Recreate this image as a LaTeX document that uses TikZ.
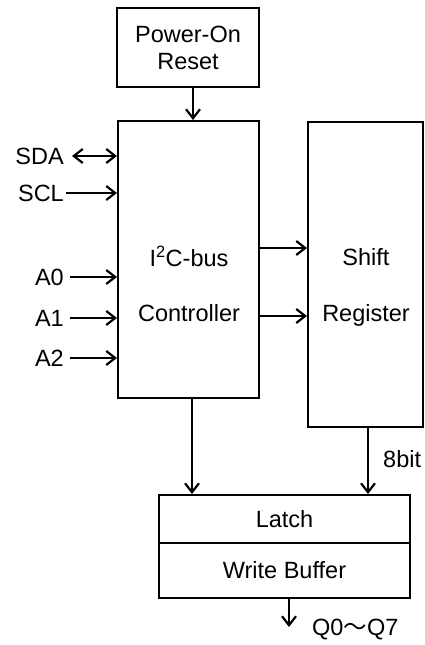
\documentclass[tikz,border=0pt]{standalone}
\usepackage{fontspec}
\setmainfont{Liberation Sans}
\newfontfamily\cjkfont{Noto Sans CJK JP}
\usetikzlibrary{arrows.meta}
\begin{document}
\begin{tikzpicture}[x=1pt,y=-1pt,
  every node/.style={font=\fontsize{23.5}{27}\selectfont},
  box/.style={draw, line width=2pt, inner sep=0pt},
  arr/.style={-{Straight Barb[length=9pt,width=14pt]}, line width=2.2pt},
  darr/.style={{Straight Barb[length=9pt,width=14pt]}-{Straight Barb[length=9pt,width=14pt]}, line width=2.2pt},
  lab/.style={inner sep=0pt, text height=16.8pt, text depth=0pt}]
\useasboundingbox (0,0) rectangle (425,645);
% boxes
\node[box, minimum width=142pt, minimum height=79pt, align=center] (por) at (188,47.5) {Power-On\\Reset};
\node[box, minimum width=141pt, minimum height=277pt] (ctrl) at (188.5,259.5) {};
\node[box, minimum width=115pt, minimum height=305pt] (shift) at (365.5,274.5) {};
\node[box, minimum width=251pt, minimum height=48pt] (latch) at (284.5,519) {Latch};
\node[box, minimum width=251pt, minimum height=55pt] (wbuf) at (284.5,570.5) {Write Buffer};
% box texts
\node[lab] (t1) at (189,258.5) {I\textsuperscript{2}C-bus};
\node[lab] (t2) at (189,313.5) {Controller};
\node[lab] (s1) at (366,257.5) {Shift};
\node[lab] (s2) at (366,313.5) {Register};
% inputs
\node[lab, anchor=east] (sda) at (64,156) {SDA};
\node[lab, anchor=east] (scl) at (64,193) {SCL};
\node[lab, anchor=east] (a0) at (64,277) {A0};
\node[lab, anchor=east] (a1) at (64,318) {A1};
\node[lab, anchor=east] (a2) at (64,358) {A2};
\draw[darr] ([xshift=8pt]sda.east) -- (sda.east -| ctrl.west);
\draw[arr] ([xshift=2pt]scl.east) -- (scl.east -| ctrl.west);
\draw[arr] ([xshift=6pt]a0.east) -- (a0.east -| ctrl.west);
\draw[arr] ([xshift=6pt]a1.east) -- (a1.east -| ctrl.west);
\draw[arr] ([xshift=6pt]a2.east) -- (a2.east -| ctrl.west);
% connectors
\draw[arr] ([xshift=5pt]por.south) -- ([xshift=5pt]por.south |- ctrl.north);
\draw[arr] ([yshift=11.5pt]ctrl.east) -- ([yshift=11.5pt]ctrl.east -| shift.west);
\draw[arr] ([yshift=-56.5pt]ctrl.east) -- ([yshift=-56.5pt]ctrl.east -| shift.west);
\draw[arr] ([xshift=3.5pt]ctrl.south) -- ([xshift=3.5pt]ctrl.south |- latch.north);
\draw[arr] ([xshift=2.5pt]shift.south) -- ([xshift=2.5pt]shift.south |- latch.north);
\node[anchor=base west, inner sep=0pt] (bits) at (383,467) {8bit};
\coordinate (qend) at (289,627);
\draw[arr] (wbuf.south -| qend) -- (qend);
\node[anchor=base west, inner sep=0pt] (q) at (312,635) {Q0{\cjkfont ～}Q7};
\end{tikzpicture}
\end{document}
